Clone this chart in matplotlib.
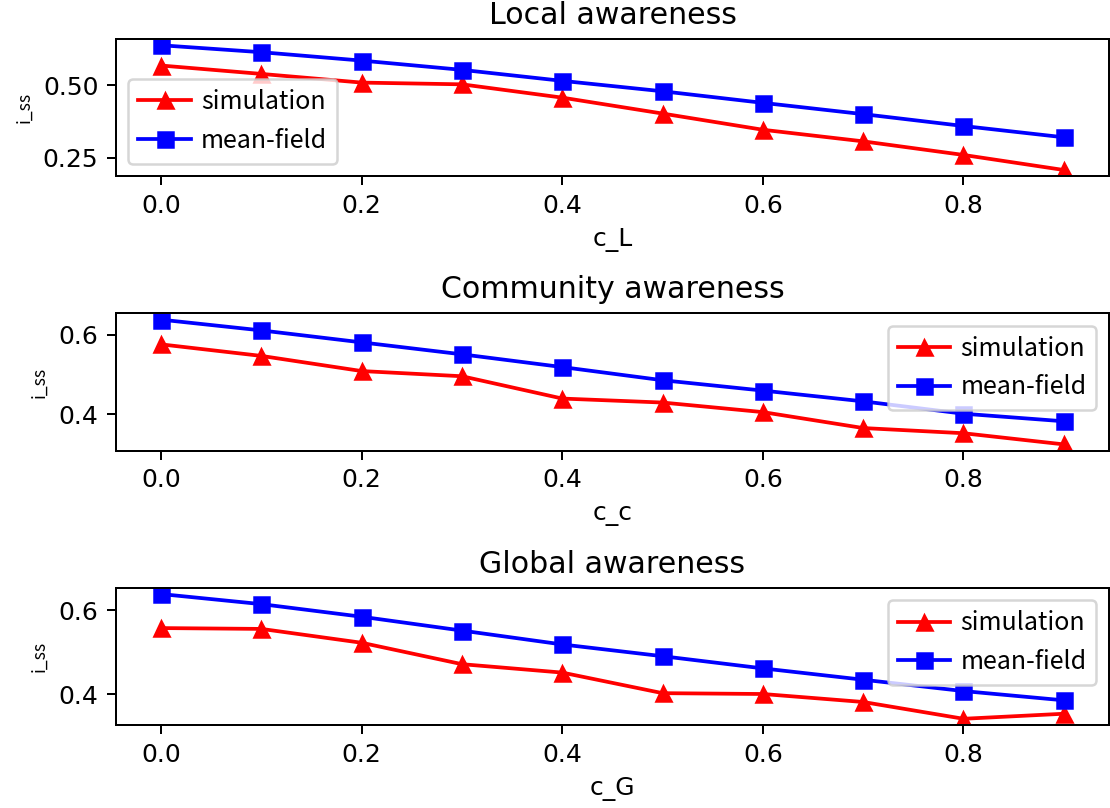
import numpy as np
import matplotlib
matplotlib.use("Agg")
import matplotlib.pyplot as plt

# awareness cost values on the x axis
c_values = [0.0, 0.1, 0.2, 0.3, 0.4, 0.5, 0.6, 0.7, 0.8, 0.9]

# steady-state infected fraction, local awareness
local_sim = [0.568, 0.539, 0.509, 0.503, 0.457, 0.402, 0.346, 0.306, 0.259, 0.207]
local_mf = [0.638, 0.614, 0.585, 0.553, 0.515, 0.479, 0.439, 0.400, 0.359, 0.320]

# community awareness
comm_sim = [0.576, 0.547, 0.509, 0.496, 0.440, 0.430, 0.406, 0.366, 0.353, 0.325]
comm_mf = [0.638, 0.611, 0.581, 0.551, 0.519, 0.486, 0.460, 0.433, 0.402, 0.383]

# global awareness
glob_sim = [0.557, 0.555, 0.522, 0.471, 0.451, 0.402, 0.400, 0.381, 0.341, 0.353]
glob_mf = [0.638, 0.614, 0.584, 0.551, 0.518, 0.490, 0.461, 0.434, 0.407, 0.385]

panels = [
    ("Local awareness", "c_L", local_sim, local_mf, "lower left"),
    ("Community awareness", "c_c", comm_sim, comm_mf, "upper right"),
    ("Global awareness", "c_G", glob_sim, glob_mf, "upper right"),
]

label_font = ["Noto Sans CJK KR", "DejaVu Sans"]
dpi = 180

fig, axes = plt.subplots(3, 1, figsize=(1110 / dpi, 808 / dpi), dpi=dpi)

for ax, (title, xlab, sim, mf, loc) in zip(axes, panels):
    ax.plot(c_values, sim, color="red", marker="^", markersize=6, label="simulation")
    ax.plot(c_values, mf, color="blue", marker="s", markersize=6, label="mean-field")
    ax.set_title(title)
    ax.set_xlabel(xlab)
    ax.set_ylabel("i_ss", family=label_font, fontsize=7)
    ax.legend(loc=loc, prop={"family": label_font, "size": 10},
              handlelength=2.1, handletextpad=0.4, labelspacing=0.5)

axes[0].set_yticks([0.25, 0.50])

fig.subplots_adjust(left=0.1045, right=0.999, top=0.9517, bottom=0.1027, hspace=1.0)
plt.savefig("out.png", dpi=dpi)
